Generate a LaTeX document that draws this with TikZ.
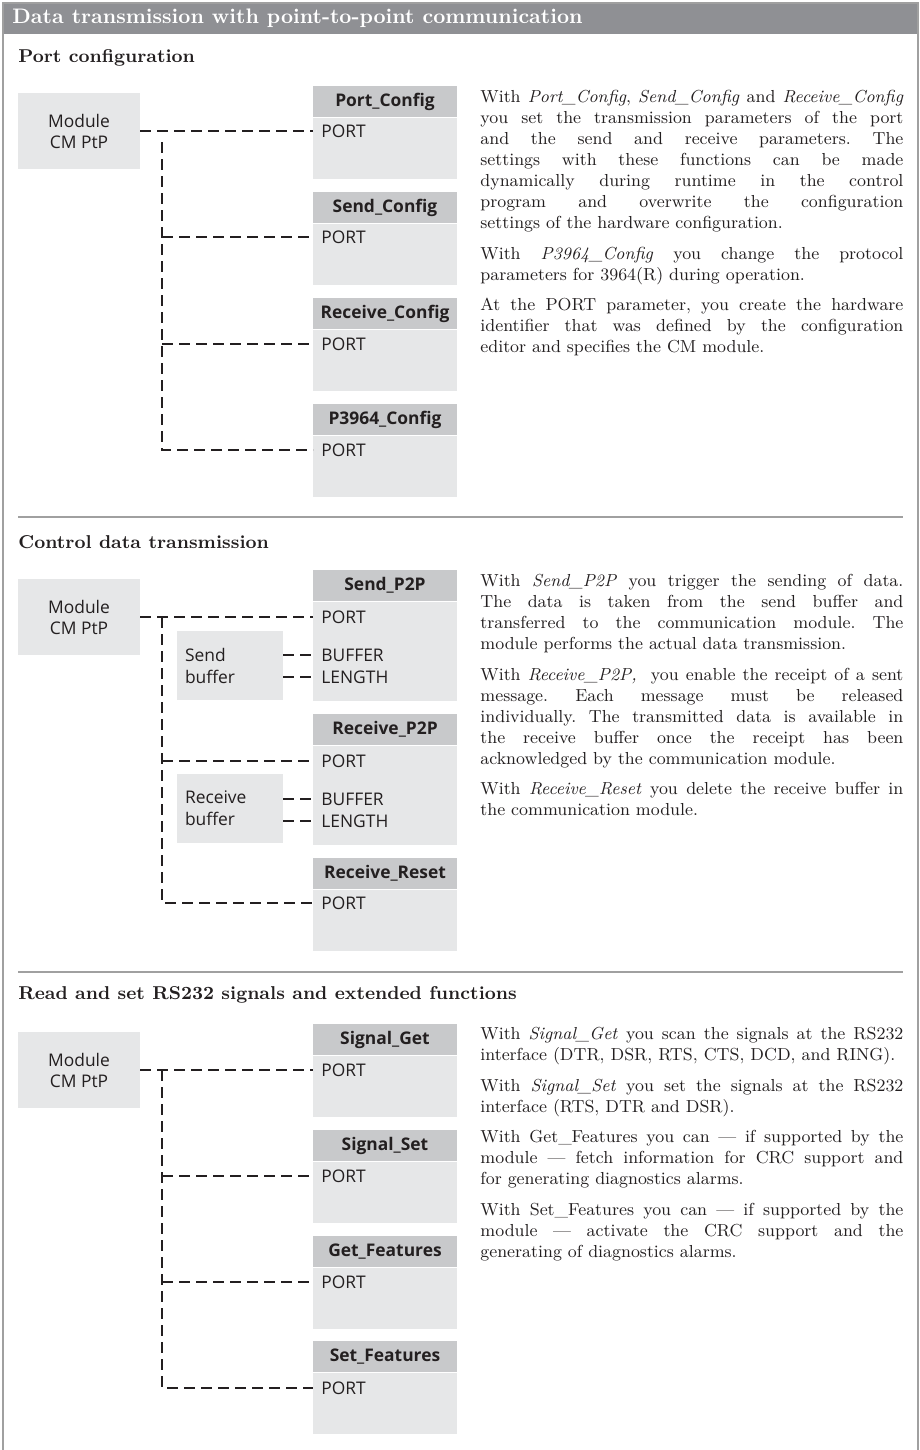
\documentclass[tikz,border=0pt]{standalone}
\usepackage{fontspec}
\newfontfamily\boxfont{Open Sans}
\usetikzlibrary{positioning}
\definecolor{headgray}{RGB}{200,201,203}
\definecolor{bodygray}{RGB}{230,231,232}
\definecolor{bargray}{RGB}{143,144,148}
\definecolor{rulegray}{RGB}{160,160,160}
\definecolor{inkblack}{RGB}{35,31,32}
\tikzset{
  fhead/.style={fill=headgray, minimum width=72pt, minimum height=15.5pt, inner sep=0pt,
    text=inkblack, font=\boxfont\bfseries\fontsize{8.7}{10.5}\selectfont},
  fbody/.style={fill=bodygray, minimum width=72pt, inner sep=0pt},
  modbox/.style={fill=bodygray, minimum width=61pt, minimum height=38pt, align=center,
    text=inkblack, font=\boxfont\fontsize{8.7}{10.5}\selectfont},
  bufbox/.style={fill=bodygray, minimum height=34.5pt, text width=45pt, inner xsep=4pt,
    align=left, text=inkblack, font=\boxfont\fontsize{8.7}{11}\selectfont},
  param/.style={anchor=west, inner xsep=4pt, inner ysep=0pt, text=inkblack,
    font=\boxfont\fontsize{8.7}{10.5}\selectfont},
  conn/.style={inkblack, line width=0.75pt, dash pattern=on 5.5pt off 3pt},
  desc/.style={anchor=north west, text width=211.5pt, align=justify, inner sep=0pt,
    text=inkblack, font=\fontsize{8.7}{10.5}\selectfont\frenchspacing},
  heading/.style={anchor=west, inner sep=0pt, text=inkblack,
    font=\fontsize{9.3}{11}\selectfont\bfseries},
  divider/.style={rulegray, line width=0.6pt}
}

\begin{document}
\begin{tikzpicture}[x=0.5pt, y=-0.5pt]
\useasboundingbox (0,0) rectangle (920,1450);
% ==== Frame and title bar ====
\fill[bargray] (3,3) rectangle (918,34);
\draw[rulegray, line width=0.8pt] (3,1450) -- (3,3) -- (918,3) -- (918,1450);
\node[anchor=west, inner sep=0pt, text=white, font=\fontsize{10.5}{12}\selectfont\bfseries]
    (title) at (12,18.5) {Data transmission with point-to-point communication};

% ==== Port configuration ====
\node[heading] (head1) at (18,58) {Port configuration};
\node[modbox] (mod1) at (79,131) {Module\\CM PtP};
\node[fhead] (pcfg) at (385,101.5) {Port\_Config};
\node[fbody, minimum height=30.5pt, below=0pt of pcfg] (pcfgb) {};
\node[param] (pcfgport) at (313,131) {PORT};
\node[fhead] (scfg) at (385,207.5) {Send\_Config};
\node[fbody, minimum height=30.5pt, below=0pt of scfg] (scfgb) {};
\node[param] (scfgport) at (313,237) {PORT};
\node[fhead] (rcfg) at (385,313.5) {Receive\_Config};
\node[fbody, minimum height=30.5pt, below=0pt of rcfg] (rcfgb) {};
\node[param] (rcfgport) at (313,344) {PORT};
\node[fhead] (p3964) at (385,419.5) {P3964\_Config};
\node[fbody, minimum height=30.5pt, below=0pt of p3964] (p3964b) {};
\node[param] (p3964port) at (313,450) {PORT};
% trunk starts just under the first line here
\coordinate (trunk1) at (162,142);
\draw[conn] (mod1.east) -- (pcfgport.west);
\draw[conn] (trunk1) |- (p3964port.west);
\draw[conn] (trunk1 |- scfgport.west) -- (scfgport.west);
\draw[conn] (trunk1 |- rcfgport.west) -- (rcfgport.west);
\node[desc] (txt1) at (480,90) {With \emph{Port\_Config}, \emph{Send\_Config} and \emph{Receive\_Config}\linebreak
you set the transmission parameters of the port\linebreak
and the send and receive parameters. The\linebreak
settings with these functions can be made\linebreak
dynamically during runtime in the control\linebreak
program and overwrite the configuration\linebreak
settings of the hardware configuration.\\[4.75pt]
With \emph{P3964\_Config} you change the protocol\linebreak
parameters for 3964(R) during operation.\\[4.75pt]
At the PORT parameter, you create the hardware\linebreak
identifier that was defined by the configuration\linebreak
editor and specifies the CM module.};

\draw[divider] (18,517) -- (903,517);

% ==== Control data transmission ====
\node[heading] (head2) at (18,542) {Control data transmission};
\node[modbox] (mod2) at (79,617) {Module\\CM PtP};
\node[fhead] (sp2p) at (385,585.5) {Send\_P2P};
\node[fbody, minimum height=49.5pt, below=0pt of sp2p] (sp2pb) {};
\node[param] (sp2pport) at (313,617) {PORT};
\node[param] (sp2pbuf) at (313,655) {BUFFER};
\node[param] (sp2plen) at (313,677) {LENGTH};
\node[bufbox] (sbuf) at (230,665.5) {Send\\buffer};
\node[fhead] (rp2p) at (385,729.5) {Receive\_P2P};
\node[fbody, minimum height=49.5pt, below=0pt of rp2p] (rp2pb) {};
\node[param] (rp2pport) at (313,761) {PORT};
\node[param] (rp2pbuf) at (313,799) {BUFFER};
\node[param] (rp2plen) at (313,821) {LENGTH};
\node[bufbox] (rbuf) at (230,808.5) {Receive\\buffer};
\node[fhead] (rreset) at (385,873.5) {Receive\_Reset};
\node[fbody, minimum height=30.5pt, below=0pt of rreset] (rresetb) {};
\node[param] (rresetport) at (313,903) {PORT};
\coordinate (trunk2) at (162,617);
\draw[conn] (mod2.east) -- (sp2pport.west);
\draw[conn] (trunk2) |- (rresetport.west);
\draw[conn] (trunk2 |- rp2pport.west) -- (rp2pport.west);
\draw[conn] (sbuf.east |- sp2pbuf.west) -- (sp2pbuf.west);
\draw[conn] (sbuf.east |- sp2plen.west) -- (sp2plen.west);
\draw[conn] (rbuf.east |- rp2pbuf.west) -- (rp2pbuf.west);
\draw[conn] (rbuf.east |- rp2plen.west) -- (rp2plen.west);
\node[desc] (txt2) at (480,574) {With \emph{Send\_P2P} you trigger the sending of data.\linebreak
The data is taken from the send buffer and\linebreak
transferred to the communication module. The\linebreak
module performs the actual data transmission.\\[4.75pt]
With \emph{Receive\_P2P,}\ \ you enable the receipt of a sent\linebreak
message. Each message must be released\linebreak
individually. The transmitted data is available in\linebreak
the receive buffer once the receipt has been\linebreak
acknowledged by the communication module.\\[4.75pt]
With \emph{Receive\_Reset} you delete the receive buffer in\linebreak
the communication module.};

\draw[divider] (18,972) -- (903,972);

% ==== RS232 signals and extended functions ====
\node[heading] (head3) at (18,995) {Read and set RS232 signals and extended functions};
\node[modbox] (mod3) at (79,1070) {Module\\CM PtP};
\node[fhead] (sget) at (385,1039.5) {Signal\_Get};
\node[fbody, minimum height=30.5pt, below=0pt of sget] (sgetb) {};
\node[param] (sgetport) at (313,1070) {PORT};
\node[fhead] (sset) at (385,1145.5) {Signal\_Set};
\node[fbody, minimum height=30.5pt, below=0pt of sset] (ssetb) {};
\node[param] (ssetport) at (313,1176) {PORT};
\node[fhead] (gfeat) at (385,1251.5) {Get\_Features};
\node[fbody, minimum height=30.5pt, below=0pt of gfeat] (gfeatb) {};
\node[param] (gfeatport) at (313,1282) {PORT};
\node[fhead] (sfeat) at (385,1356.5) {Set\_Features};
\node[fbody, minimum height=30.5pt, below=0pt of sfeat] (sfeatb) {};
\node[param] (sfeatport) at (313,1388) {PORT};
\coordinate (trunk3) at (162,1070);
\draw[conn] (mod3.east) -- (sgetport.west);
\draw[conn] (trunk3) |- (sfeatport.west);
\draw[conn] (trunk3 |- ssetport.west) -- (ssetport.west);
\draw[conn] (trunk3 |- gfeatport.west) -- (gfeatport.west);
\node[desc] (txt3) at (480,1027) {With \emph{Signal\_Get} you scan the signals at the RS232\linebreak
interface (DTR, DSR, RTS, CTS, DCD, and RING).\\[4.75pt]
With \emph{Signal\_Set} you set the signals at the RS232\linebreak
interface (RTS, DTR and DSR).\\[4.75pt]
With Get\_Features you can --- if supported by the\linebreak
module --- fetch information for CRC support and\linebreak
for generating diagnostics alarms.\\[4.75pt]
With Set\_Features you can --- if supported by the\linebreak
module --- activate the CRC support and the\linebreak
generating of diagnostics alarms.};
\end{tikzpicture}
\end{document}
